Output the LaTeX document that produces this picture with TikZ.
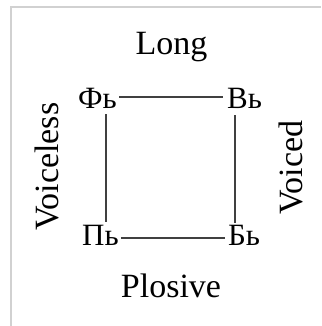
\documentclass[tikz,border=0pt]{standalone}
\usepackage{fontspec}
\setmainfont{Liberation Serif}
\begin{document}
\begin{tikzpicture}[x=1pt,y=-1pt,
  lbl/.style={inner sep=0pt, font=\fontsize{34}{40}\selectfont, text=black},
  cyr/.style={inner sep=0pt, anchor=base west, font=\fontsize{31}{36}\selectfont, text=black},
  edge/.style={draw=black!75, line width=1.8pt},
  frame/.style={draw=black!18, line width=1.5pt}]
\useasboundingbox (0,0) rectangle (321,326);
\draw[frame] (11,326) -- (11,7) -- (321,7);
\node[lbl, anchor=base] (long) at (171.5,55) {Long};
\node[lbl, anchor=base] (plosive) at (171,297) {Plosive};
\node[lbl, anchor=base, rotate=90] (voiceless) at (58,166.5) {Voiceless};
\node[lbl, anchor=base, rotate=90] (voiced) at (302,167.5) {Voiced};
\node[cyr] (f) at (78,109) {Фь};
\node[cyr] (v) at (227,109) {Вь};
\node[cyr] (p) at (82,245) {Пь};
\node[cyr] (b) at (228,245) {Бь};
\draw[edge] ([xshift=2pt,yshift=12pt]f.base east) -- ([xshift=-4pt,yshift=12pt]v.base west);
\draw[edge] ([xshift=2pt,yshift=7pt]p.base east) -- ([xshift=-3pt,yshift=7pt]b.base west);
\draw[edge] ([xshift=28pt,yshift=-5pt]f.base west) -- ([xshift=24pt,yshift=23pt]p.base west);
\draw[edge] ([xshift=8pt,yshift=-6pt]v.base west) -- ([xshift=7pt,yshift=22pt]b.base west);
\end{tikzpicture}
\end{document}
